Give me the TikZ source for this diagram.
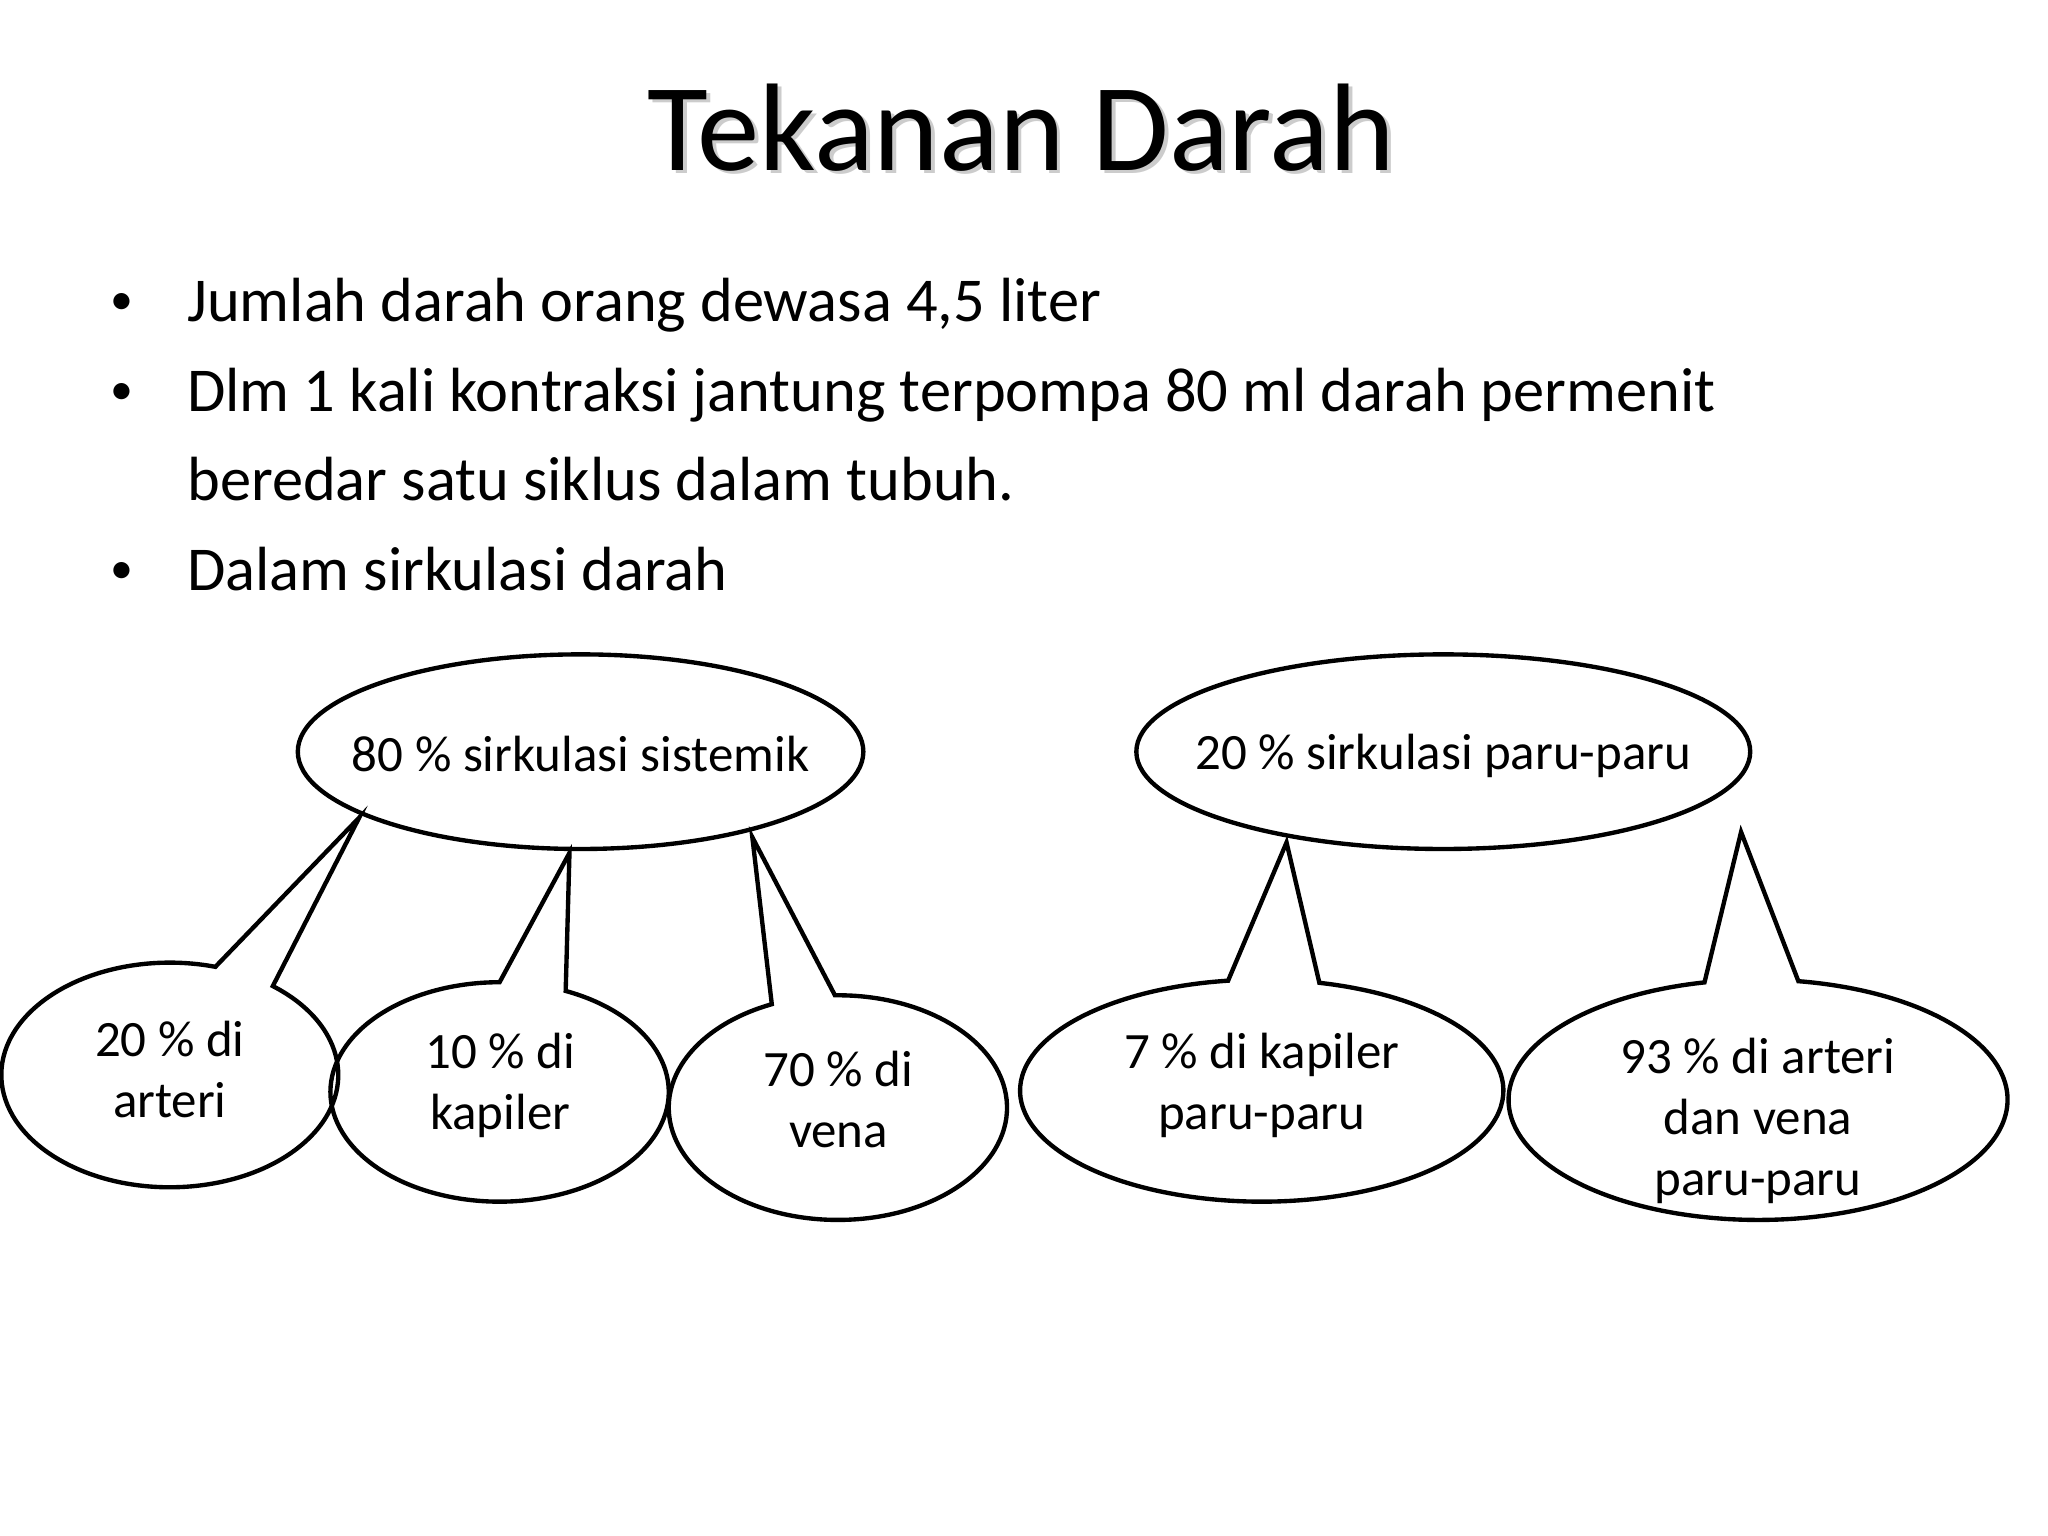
\documentclass[tikz,border=0pt]{standalone}
\usepackage{fontspec}
\setmainfont{Carlito}
\begin{document}
\begin{tikzpicture}[x=0.02cm,y=-0.02cm,
  outl/.style={draw=black, line width=1.9pt, line join=miter},
  lbl/.style={font=\fontsize{22.2}{26.5}\selectfont, align=center, inner sep=0pt},
  btxt/.style={font=\fontsize{27.2}{39}\selectfont, anchor=base west, inner sep=0pt},
  bdot/.style={font=\fontsize{20}{24}\selectfont, inner sep=0pt},
  titl/.style={font=\fontsize{54.3}{60}\selectfont, anchor=base, inner sep=0pt},
]
\useasboundingbox (0,0) rectangle (1568,1176);
\fill[white] (0,0) rectangle (1568,1176);

% title with soft shadow
\node[titl, text=black!20] (titleshadow) at (785,133) {Tekanan Darah};
\node[titl] (title) at (782,130.5) {Tekanan Darah};

% bullets
\node[bdot] (d1) at (93,233) {•};
\node[btxt] (l1) at (143,245.8) {Jumlah darah orang dewasa 4,5 liter};
\node[bdot] (d2) at (93,302) {•};
\node[btxt] (l2) at (143,314.7) {Dlm 1 kali kontraksi jantung terpompa 80 ml darah permenit};
\node[btxt] (l2b) at (143,382.9) {beredar satu siklus dalam tubuh.};
\node[bdot] (d3) at (93,439) {•};
\node[btxt] (l3) at (143,451.8) {Dalam sirkulasi darah};

% parent ellipses
\node[lbl] (e1) at (444.5,577) {80 \% sirkulasi sistemik};
\draw[outl] (444.5,575.5) ellipse[x radius=216.5, y radius=74.5];
\node[lbl] (e2) at (1105,579) {20 \% sirkulasi paru-paru};
\draw[outl] (1105,575.5) ellipse[x radius=235, y radius=74.5];

% pointer tips
\coordinate (tip1) at (275,626);
\coordinate (tip2) at (436,653);
\coordinate (tip3) at (576,641);
\coordinate (tip4) at (985,645);
\coordinate (tip5) at (1333,637);

% callout 1
\coordinate (c1) at (130,823);
\node[lbl] (t1) at (130,819) {20 \% di\\arteri};
\draw[outl] (c1) ++(-52.3:129 and 86) arc[start angle=-52.3, end angle=285.7, x radius=129, y radius=86] -- (tip1) -- cycle;

% callout 2
\coordinate (c2) at (382.5,836);
\node[lbl] (t2) at (383,831) {10 \% di\\kapiler};
\draw[outl] (c2) ++(-67:129.5 and 84) arc[start angle=-67, end angle=270, x radius=129.5, y radius=84] -- (tip2) -- cycle;

% callout 3
\coordinate (c3) at (641.5,848);
\node[lbl] (t3) at (642,842) {70 \% di\\vena};
\draw[outl] (c3) ++(-91:129.5 and 86) arc[start angle=-91, end angle=247, x radius=129.5, y radius=86] -- (tip3) -- cycle;

% callout 4
\coordinate (c4) at (966,835);
\node[lbl] (t4) at (966,831) {7 \% di kapiler\\paru-paru};
\draw[outl] (c4) ++(-76.2:185 and 85) arc[start angle=-76.2, end angle=262, x radius=185, y radius=85] -- (tip4) -- cycle;

% callout 5
\coordinate (c5) at (1346,842);
\node[lbl] (t5) at (1346,858) {93 \% di arteri\\dan vena\\paru-paru};
\draw[outl] (c5) ++(-80.7:191 and 92) arc[start angle=-80.7, end angle=257.6, x radius=191, y radius=92] -- (tip5) -- cycle;
\end{tikzpicture}
\end{document}
